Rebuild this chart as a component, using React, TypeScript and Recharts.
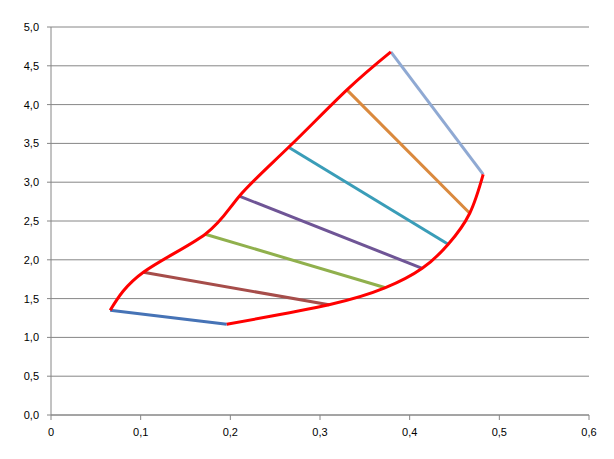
import { ScatterChart, Scatter, XAxis, YAxis, CartesianGrid } from 'recharts';

// inner edge (upper-left red curve) — start of each connector
const innerX = [0.066, 0.103, 0.172, 0.21, 0.265, 0.33, 0.379];
const innerY = [1.35, 1.84, 2.33, 2.82, 3.45, 4.19, 4.68];

// outer edge (lower-right red curve) — end of each connector
const outerX = [0.196, 0.31, 0.373, 0.414, 0.443, 0.467, 0.482];
const outerY = [1.17, 1.42, 1.64, 1.89, 2.2, 2.6, 3.1];

const connectorColors = ['#4673B6', '#A64D4A', '#90B04D', '#6F5596', '#3A9DB8', '#DA893D', '#8FA9D3'];

const xTicks = [0, 0.1, 0.2, 0.3, 0.4, 0.5, 0.6];
const yTicks = [0, 0.5, 1, 1.5, 2, 2.5, 3, 3.5, 4, 4.5, 5];

const innerCurve = innerX.map((x, i) => ({ x, y: innerY[i] }));
const outerCurve = outerX.map((x, i) => ({ x, y: outerY[i] }));
const connectors = innerX.map((x, i) => [
  { x, y: innerY[i] },
  { x: outerX[i], y: outerY[i] },
]);

const noShape = () => <g />;

const fmtX = (v: number) => (v === 0 ? '0' : String(v).replace('.', ','));
const fmtY = (v: number) => v.toFixed(1).replace('.', ',');

const tickStyle = { fill: '#000', fontSize: 11, fontFamily: 'Liberation Sans, Arial, sans-serif' };

export default function App() {
  return (
    <div style={{ position: 'absolute', left: 0, top: 0, background: '#fff' }}>
      <ScatterChart width={614} height={459} margin={{ top: 27, right: 25, bottom: 13, left: 11 }}>
        <CartesianGrid vertical={false} stroke="#868686" strokeWidth={1} />
        <XAxis
          type="number"
          dataKey="x"
          domain={[0, 0.6]}
          ticks={xTicks}
          tickFormatter={fmtX}
          height={31}
          tickSize={5}
          tickMargin={8}
          stroke="#868686"
          tick={tickStyle}
          allowDataOverflow
        />
        <YAxis
          type="number"
          dataKey="y"
          domain={[0, 5]}
          ticks={yTicks}
          tickFormatter={fmtY}
          width={40}
          tickSize={4}
          tickMargin={8}
          stroke="#868686"
          tick={tickStyle}
          allowDataOverflow
        />
        {connectors.map((d, i) => (
          <Scatter
            key={`c-${i}`}
            data={d}
            fill={connectorColors[i]}
            line={{ stroke: connectorColors[i], strokeWidth: 3 }}
            shape={noShape}
            isAnimationActive={false}
          />
        ))}
        <Scatter
          data={innerCurve}
          fill="#FF0000"
          line={{ stroke: '#FF0000', strokeWidth: 3 }}
          lineJointType="natural"
          shape={noShape}
          isAnimationActive={false}
        />
        <Scatter
          data={outerCurve}
          fill="#FF0000"
          line={{ stroke: '#FF0000', strokeWidth: 3 }}
          lineJointType="natural"
          shape={noShape}
          isAnimationActive={false}
        />
      </ScatterChart>
    </div>
  );
}
